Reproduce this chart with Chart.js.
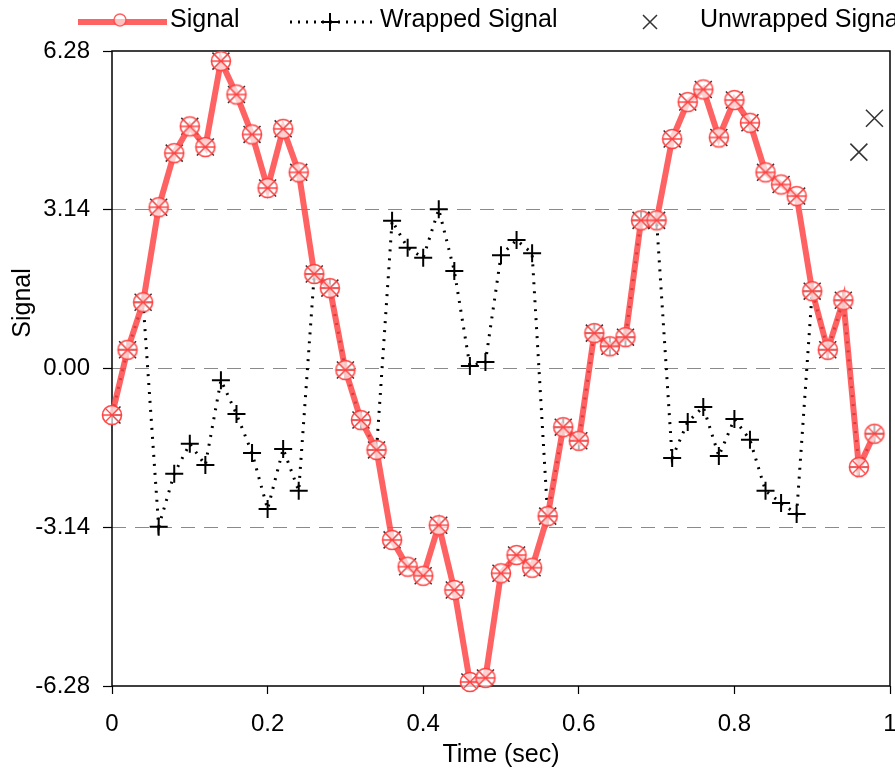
<!DOCTYPE html>
<html lang="en">
<head>
  <meta charset="UTF-8" />
  <title>Signal wrapping</title>
  <style>
    body {
      margin: 0;
      background: #ffffff;
    }
    #wrap {
      width: 895px;
      height: 772px;
    }
  </style>
</head>
<body>
  <div id="wrap"><canvas id="chart" width="895" height="772"></canvas></div>

  <script src="https://cdn.jsdelivr.net/npm/chart.js"></script>
  <script>
    // time axis (sec)
    const tSec = [0, 0.02, 0.04, 0.06, 0.08, 0.10, 0.12, 0.14, 0.16, 0.18,
                  0.20, 0.22, 0.24, 0.26, 0.28, 0.30, 0.32, 0.34, 0.36, 0.38,
                  0.40, 0.42, 0.44, 0.46, 0.48, 0.50, 0.52, 0.54, 0.56, 0.58,
                  0.60, 0.62, 0.64, 0.66, 0.68, 0.70, 0.72, 0.74, 0.76, 0.78,
                  0.80, 0.82, 0.84, 0.86, 0.88, 0.90, 0.92, 0.94, 0.96, 0.98];

    const signal = [-0.92, 0.37, 1.31, 3.19, 4.26, 4.79, 4.38, 6.08, 5.42, 4.63,
                    3.57, 4.74, 3.88, 1.87, 1.59, -0.03, -1.02, -1.61, -3.39, -3.92,
                    -4.10, -3.10, -4.38, -6.20, -6.12, -4.05, -3.69, -3.94, -2.92, -1.16,
                    -1.43, 0.70, 0.44, 0.62, 2.93, 2.93, 4.54, 5.27, 5.52, 4.57,
                    5.31, 4.86, 3.88, 3.64, 3.41, 1.53, 0.37, 1.35, -1.95, -1.29];

    const wrapped = [-0.92, 0.37, 1.31, -3.13, -2.08, -1.49, -1.91, -0.23, -0.90, -1.67,
                     -2.78, -1.59, -2.42, 1.87, 1.59, -0.03, -1.02, -1.61, 2.92, 2.39,
                     2.19, 3.15, 1.93, 0.05, 0.13, 2.24, 2.54, 2.28, -2.92, -1.16,
                     -1.43, 0.70, 0.44, 0.62, 2.93, 2.93, -1.77, -1.06, -0.76, -1.73,
                     -1.00, -1.41, -2.42, -2.66, -2.88, 1.53, 0.37, 1.35, -1.95, -1.29];

    const unwrapped = [-0.92, 0.37, 1.31, 3.19, 4.26, 4.79, 4.38, 6.08, 5.42, 4.63,
                       3.57, 4.74, 3.88, 1.87, 1.59, -0.03, -1.02, -1.61, -3.39, -3.92,
                       -4.10, -3.10, -4.38, -6.20, -6.12, -4.05, -3.69, -3.94, -2.92, -1.16,
                       -1.43, 0.70, 0.44, 0.62, 2.93, 2.93, 4.54, 5.27, 5.52, 4.57,
                       5.31, 4.86, 3.88, 3.64, 3.41, 1.53, 0.37, 1.35, 4.28, 4.95];

    const yTicks = [-6.28, -3.14, 0, 3.14, 6.28];
    const xTicks = [0, 0.2, 0.4, 0.6, 0.8, 1];

    const FONT = "'Liberation Sans', Arial, sans-serif";
    const RED = 'rgba(255, 70, 70, 0.85)';

    function pts(ys) {
      return tSec.map((t, i) => ({ x: t, y: ys[i] }));
    }

    // red circle marker with a cross inside
    function makeMarker() {
      const c = document.createElement('canvas');
      c.width = 24; c.height = 24;
      const g = c.getContext('2d');
      g.fillStyle = 'rgba(255,255,255,0.7)';
      g.strokeStyle = 'rgba(255, 60, 60, 0.95)';
      g.lineWidth = 1.6;
      g.beginPath(); g.arc(12, 12, 9.5, 0, Math.PI * 2); g.fill(); g.stroke();
      g.lineWidth = 1.3;
      g.beginPath();
      g.moveTo(5.5, 5.5); g.lineTo(18.5, 18.5);
      g.moveTo(18.5, 5.5); g.lineTo(5.5, 18.5);
      g.moveTo(2.5, 12); g.lineTo(21.5, 12);
      g.stroke();
      return c;
    }
    const marker = makeMarker();

    // frame, legend and y title
    const decor = {
      id: 'decor',
      beforeDatasetsDraw(chart) {
        const { ctx, chartArea: a } = chart;
        ctx.save();
        ctx.strokeStyle = '#000';
        ctx.lineWidth = 1.5;
        ctx.strokeRect(a.left, a.top, a.right - a.left, a.bottom - a.top);
        ctx.restore();
      },
      afterDraw(chart) {
        const ctx = chart.ctx;
        ctx.save();
        ctx.font = '25px ' + FONT;
        ctx.fillStyle = '#000';
        ctx.textBaseline = 'middle';

        // Signal
        ctx.strokeStyle = RED;
        ctx.lineWidth = 6;
        ctx.beginPath(); ctx.moveTo(78, 22); ctx.lineTo(167, 22); ctx.stroke();
        ctx.lineWidth = 1.5;
        ctx.fillStyle = 'rgba(255,255,255,0.6)';
        ctx.beginPath(); ctx.arc(120, 20, 6, 0, Math.PI * 2); ctx.fill(); ctx.stroke();
        ctx.fillStyle = '#000';
        ctx.fillText('Signal', 170, 20);

        // Wrapped Signal
        ctx.strokeStyle = '#000';
        ctx.lineWidth = 3;
        ctx.setLineDash([2, 6]);
        ctx.beginPath(); ctx.moveTo(290, 22); ctx.lineTo(376, 22); ctx.stroke();
        ctx.setLineDash([]);
        ctx.lineWidth = 2;
        ctx.beginPath();
        ctx.moveTo(321, 22); ctx.lineTo(339, 22);
        ctx.moveTo(330, 13); ctx.lineTo(330, 31);
        ctx.stroke();
        ctx.fillText('Wrapped Signal', 380, 20);

        // Unwrapped Signal
        ctx.strokeStyle = '#333';
        ctx.lineWidth = 1.5;
        ctx.beginPath();
        ctx.moveTo(643, 15); ctx.lineTo(657, 29);
        ctx.moveTo(657, 15); ctx.lineTo(643, 29);
        ctx.stroke();
        ctx.fillText('Unwrapped Signal', 700, 20);

        // y axis title
        ctx.translate(23, 303);
        ctx.rotate(-Math.PI / 2);
        ctx.textAlign = 'center';
        ctx.fillText('Signal', 0, 0);
        ctx.restore();
      }
    };

    new Chart(document.getElementById('chart'), {
      type: 'line',
      data: {
        datasets: [
          {
            label: 'Signal',
            data: pts(signal),
            borderColor: RED,
            borderWidth: 6,
            pointStyle: marker,
            pointRadius: 10,
            tension: 0,
            clip: false
          },
          {
            label: 'Wrapped Signal',
            data: pts(wrapped),
            borderColor: '#000',
            borderWidth: 3,
            borderDash: [2, 7],
            pointStyle: 'cross',
            pointRadius: 9,
            pointBorderWidth: 2,
            pointBorderColor: '#000',
            tension: 0
          },
          {
            label: 'Unwrapped Signal',
            data: pts(unwrapped),
            showLine: false,
            pointStyle: 'crossRot',
            pointRadius: 12,
            pointBorderWidth: 1.5,
            pointBorderColor: '#333'
          }
        ]
      },
      options: {
        responsive: false,
        animation: false,
        layout: { autoPadding: false, padding: { top: 51, right: 5, left: 0, bottom: 0 } },
        plugins: {
          legend: { display: false },
          tooltip: { enabled: false }
        },
        scales: {
          x: {
            type: 'linear',
            min: 0,
            max: 1,
            afterFit(s) { s.height = 86; s.paddingLeft = 0; s.paddingRight = 0; },
            afterBuildTicks(s) { s.ticks = xTicks.map(v => ({ value: v })); },
            ticks: {
              font: { family: FONT, size: 24 },
              color: '#000',
              padding: 16,
              maxRotation: 0,
              callback: v => String(+v.toFixed(1))
            },
            grid: {
              drawOnChartArea: false,
              drawTicks: true,
              tickLength: 8,
              tickColor: '#000',
              tickWidth: 1.2
            },
            border: { display: false },
            title: {
              display: true,
              text: 'Time (sec)',
              font: { family: FONT, size: 25 },
              color: '#000',
              padding: { top: 0, bottom: 2 }
            }
          },
          y: {
            min: -6.28,
            max: 6.28,
            afterFit(s) { s.width = 112; s.paddingTop = 0; s.paddingBottom = 0; },
            afterBuildTicks(s) { s.ticks = yTicks.map(v => ({ value: v })); },
            ticks: {
              font: { family: FONT, size: 24 },
              color: '#000',
              padding: 13,
              callback: v => v.toFixed(2)
            },
            grid: {
              color: c => (Math.abs(c.tick.value) > 6 ? 'rgba(0,0,0,0)' : '#8a8a8a'),
              lineWidth: 1,
              tickLength: 9,
              tickColor: '#000',
              tickWidth: 1.2
            },
            border: { display: false, dash: [14, 9] }
          }
        }
      },
      plugins: [decor]
    });
  </script>
</body>
</html>
